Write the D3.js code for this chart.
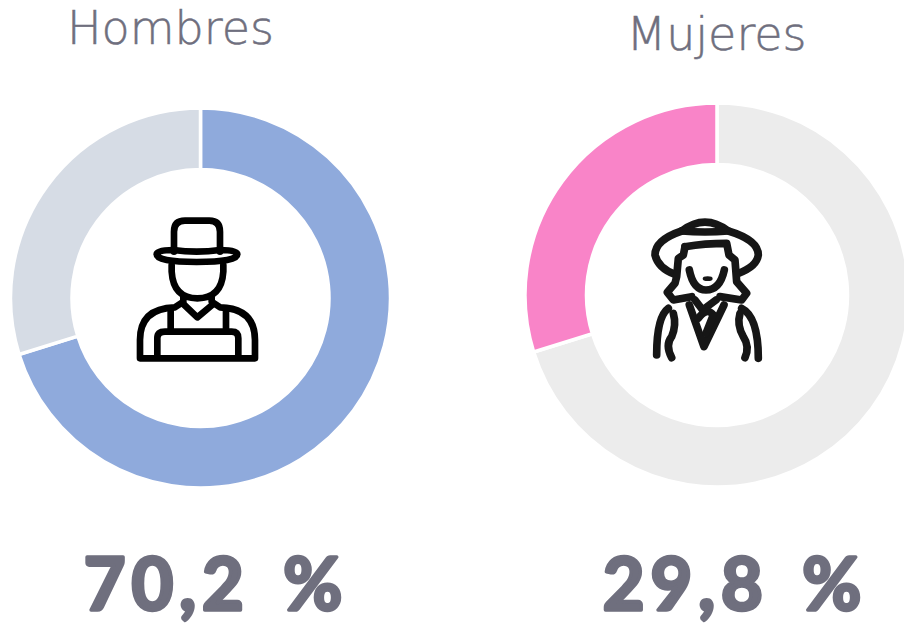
<!DOCTYPE html>
<html><head><meta charset="utf-8">
<script src="https://cdn.jsdelivr.net/npm/d3@7"></script>
<style>html,body{margin:0;padding:0;background:#fff;overflow:hidden}svg{display:block}</style>
</head><body><svg id="c" width="904" height="625"></svg>
<script>
const titles = ["Hombres", "Mujeres"];
const hombresValues = [70.2, 29.8];
const mujeresValues = [70.2, 29.8];
const hombresColors = ["#8faadc", "#d6dce5"];
const mujeresColors = ["#ececec", "#f984c8"];
const percentLabels = ["70,2 %", "29,8 %"];
const ink = "#6f6f7e";

const svg = d3.select("#c");
const pie = d3.pie().sort(null);

function donut(values, colors, cx, cy, r0, r1) {
  const arc = d3.arc().innerRadius(r0).outerRadius(r1);
  svg.append("g").attr("transform", `translate(${cx},${cy})`)
    .selectAll("path").data(pie(values)).join("path")
    .attr("d", arc).attr("fill", (d, i) => colors[i])
    .attr("stroke", "#fff").attr("stroke-width", 3.5);
}
donut(hombresValues, hombresColors, 200.5, 298, 128.5, 190);
donut(mujeresValues, mujeresColors, 717, 295, 130.5, 192);

function title(t, x, y) {
  svg.append("text").text(t).attr("x", x).attr("y", y).attr("text-anchor", "middle")
    .attr("font-family", "DejaVu Sans").attr("font-weight", 200).attr("font-size", 46)
    .attr("fill", ink).attr("stroke", ink).attr("stroke-width", 0.5);
}
title(titles[0], 170.5, 44);
title(titles[1], 716.5, 50);

function pct(t, x) {
  svg.append("text").text(t).attr("x", x).attr("y", 610).attr("text-anchor", "middle")
    .attr("font-family", "Lato").attr("font-weight", 700).attr("font-size", 72)
    .attr("fill", ink).attr("stroke", ink).attr("stroke-width", 3.5).attr("stroke-linejoin", "round")
    .attr("letter-spacing", 6).attr("word-spacing", 10);
}
pct(percentLabels[0], 216);
pct(percentLabels[1], 735);

const manIcon = [
  "M162 155V95Q162 62 195 62H268Q300 62 300 95V155",
  "M110 163Q110 150 160 150Q230 160 300 150Q352 150 352 163Q352 186 230 186Q110 186 110 163Z",
  "M155 195V215Q160 295 232 295Q305 295 310 215V195",
  "M190 290V305L165 322Q60 325 60 420V475H405V420Q405 325 300 322L275 305V290",
  "M190 312L232 352L280 312",
  "M152 325V390M318 325V390",
  "M112 470V415Q112 395 135 395H335Q355 395 355 415V470"
];
const manG = svg.append("g").attr("transform", "translate(120,200) scale(0.3333)")
  .attr("fill", "none").attr("stroke", "#000").attr("stroke-width", 20)
  .attr("stroke-linejoin", "round").attr("stroke-linecap", "round");
manG.selectAll("path").data(manIcon).join("path").attr("d", d => d);

const womanIcon = [
  "M155 78Q225 25 295 78Q385 105 385 150Q380 185 325 205",
  "M155 78Q75 105 75 150Q85 190 135 208",
  "M155 78Q225 84 295 78",
  "M165 125Q225 115 290 115L297 150L315 165L320 230L350 265L335 285L270 275",
  "M165 125L160 150L145 160L140 215L135 235L112 262L130 285L185 275",
  "M178 195Q190 255 228 255Q270 255 283 195",
  "M178 300L222 425L282 300",
  "M195 285L218 315L258 285",
  "M205 340Q230 305 250 330L228 385",
  "M115 310Q80 335 80 450",
  "M130 325Q140 360 125 395Q105 420 125 458",
  "M335 310Q385 335 385 460",
  "M330 325Q320 360 340 395Q360 425 345 458"
];
const womanG = svg.append("g").attr("transform", "translate(630,205) scale(0.3333)")
  .attr("fill", "none").attr("stroke", "#161616").attr("stroke-width", 23)
  .attr("stroke-linejoin", "round").attr("stroke-linecap", "round");
womanG.selectAll("path").data(womanIcon).join("path").attr("d", d => d);
womanG.append("ellipse").attr("cx", 233).attr("cy", 221).attr("rx", 15).attr("ry", 7)
  .attr("fill", "#161616").attr("stroke", "none");
</script></body></html>
